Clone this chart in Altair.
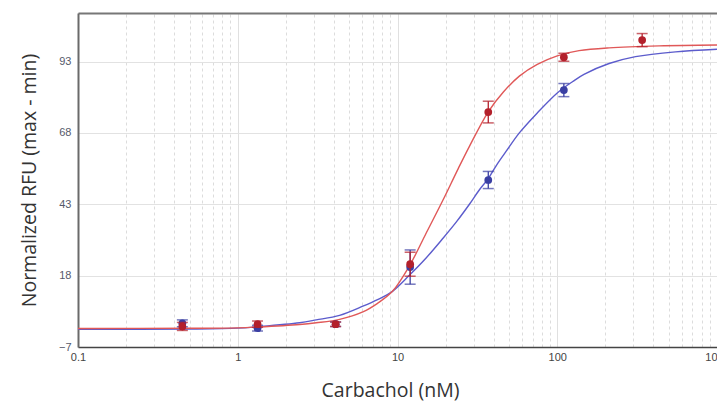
import altair as alt
import pandas as pd

# ---- data ----
red_conc = [0.45, 1.33, 4.1, 12.0, 37.0, 110.0, 340.0]
red_val = [0.2, 1.0, 1.0, 22.0, 75.3, 94.5, 100.5]
red_err = [1.4, 1.1, 0.8, 4.2, 3.8, 1.4, 2.3]

blue_conc = [0.45, 1.33, 4.1, 12.0, 37.0, 110.0]
blue_val = [1.3, -0.4, 1.0, 21.0, 51.5, 83.0]
blue_err = [1.2, 1.0, 0.8, 6.0, 3.0, 2.3]

red_curve_x = [0.1, 0.5, 1.0, 1.33, 2.44, 3.1, 4.34, 6.07, 7.5, 9.3, 11.9, 15.0, 19.2, 24.0, 28.2, 37.0, 46.0, 57.9, 75.0, 100.0, 137.0, 211.0, 434.0, 1000.0]
red_curve_y = [-0.5, -0.45, -0.3, 0.0, 0.9, 1.5, 2.7, 5.3, 8.3, 12.5, 21.5, 32.5, 44.3, 55.5, 63.3, 75.4, 82.3, 87.9, 92.0, 95.0, 96.8, 97.8, 98.5, 98.8]

blue_curve_x = [0.1, 0.5, 1.0, 1.33, 2.44, 3.1, 4.34, 6.07, 7.5, 9.3, 11.9, 15.0, 19.2, 23.5, 28.2, 32.5, 37.0, 42.0, 47.8, 57.9, 75.0, 100.0, 125.0, 147.0, 211.0, 309.0, 550.0, 1000.0]
blue_curve_y = [-0.8, -0.7, -0.4, 0.1, 1.5, 2.5, 4.1, 7.3, 9.6, 12.5, 18.2, 24.0, 31.0, 37.0, 43.0, 48.0, 52.0, 57.0, 61.5, 68.0, 75.0, 82.0, 86.0, 88.5, 92.3, 94.7, 96.4, 97.3]

major_ticks = [0.1, 1, 10, 100, 1000]
minor_ticks = [0.2, 0.3, 0.4, 0.5, 0.6, 0.7, 0.8, 0.9,
               2, 3, 4, 5, 6, 7, 8, 9,
               20, 30, 40, 50, 60, 70, 80, 90,
               200, 300, 400, 500, 600, 700, 800, 900]
y_ticks = [-7, 18, 43, 68, 93]

RED_PT = "#b3202b"
RED_LN = "#e05858"
BLUE_PT = "#3a3fa3"
BLUE_LN = "#5c5ccc"

red_pts = pd.DataFrame({"x": red_conc, "y": red_val,
                        "lo": [v - e for v, e in zip(red_val, red_err)],
                        "hi": [v + e for v, e in zip(red_val, red_err)]})
blue_pts = pd.DataFrame({"x": blue_conc, "y": blue_val,
                         "lo": [v - e for v, e in zip(blue_val, blue_err)],
                         "hi": [v + e for v, e in zip(blue_val, blue_err)]})
red_curve = pd.DataFrame({"x": red_curve_x, "y": red_curve_y})
blue_curve = pd.DataFrame({"x": blue_curve_x, "y": blue_curve_y})

xs = alt.Scale(type="log", domain=[0.1, 1000], nice=False)
ys = alt.Scale(domain=[-7, 110], nice=False, zero=False)

y_axis = alt.Axis(values=y_ticks, title="Normalized RFU (max - min)",
                  grid=True, gridColor="#e2e2e2", gridWidth=1,
                  ticks=False, domain=True, domainColor="#6a6a6a", domainWidth=2,
                  labelFont="Liberation Sans", labelFontSize=11, labelColor="#55596a",
                  labelPadding=7, titleFont="Open Sans", titleFontSize=19.5,
                  titleFontWeight="normal", titleColor="#333333", titlePadding=19)

x_minor = alt.Axis(values=minor_ticks, orient="top", labels=False, ticks=False,
                   grid=True, gridColor="#dcdcdc", gridDash=[3, 3], gridWidth=1,
                   domain=True, domainColor="#777777", domainWidth=2, title=None)

x_major = alt.Axis(values=major_ticks, orient="bottom", grid=True, gridColor="#e0e0e0",
                   gridWidth=1, ticks=False, domain=True, domainColor="#444444",
                   domainWidth=1.5, labelFont="Liberation Sans", labelFontSize=11,
                   labelColor="#444444", labelPadding=4, labelFlush=False,
                   labelExpr="datum.value < 1 ? '0.1' : format(datum.value, 'd')",
                   title="Carbachol (nM)", titleFont="Open Sans", titleFontSize=19.5,
                   titleFontWeight="normal", titleColor="#333333", titlePadding=19,
                   titleX=312)

blue_line = alt.Chart(blue_curve).mark_line(color=BLUE_LN, strokeWidth=1.4,
                                            interpolate="catmull-rom", clip=True).encode(
    x=alt.X("x:Q", scale=xs, axis=x_minor),
    y=alt.Y("y:Q", scale=ys, axis=y_axis))

red_line = alt.Chart(red_curve).mark_line(color=RED_LN, strokeWidth=1.4,
                                          interpolate="catmull-rom", clip=True).encode(
    x=alt.X("x:Q", scale=xs, axis=x_major),
    y=alt.Y("y:Q", scale=ys, axis=y_axis))


def err_layers(df, col):
    rule = alt.Chart(df).mark_rule(color=col, strokeWidth=1.3).encode(
        x=alt.X("x:Q", scale=xs, axis=None),
        y=alt.Y("lo:Q", scale=ys, axis=y_axis), y2="hi:Q")
    cap_lo = alt.Chart(df).mark_tick(color=col, orient="horizontal", size=11,
                                     thickness=1.5).encode(
        x=alt.X("x:Q", scale=xs, axis=None),
        y=alt.Y("lo:Q", scale=ys, axis=y_axis))
    cap_hi = alt.Chart(df).mark_tick(color=col, orient="horizontal", size=11,
                                     thickness=1.5).encode(
        x=alt.X("x:Q", scale=xs, axis=None),
        y=alt.Y("hi:Q", scale=ys, axis=y_axis))
    pts = alt.Chart(df).mark_circle(color=col, size=60, opacity=1).encode(
        x=alt.X("x:Q", scale=xs, axis=None),
        y=alt.Y("y:Q", scale=ys, axis=y_axis))
    return [rule, cap_lo, cap_hi, pts]


chart = alt.layer(
    blue_line, red_line,
    *err_layers(blue_pts, BLUE_PT),
    *err_layers(red_pts, RED_PT),
).resolve_axis(x="independent").properties(
    width=639, height=334,
    autosize=alt.AutoSizeParams(type="none"),
    padding={"left": 78, "top": 13, "right": 0, "bottom": 54},
    background="white",
).configure_view(stroke=None)

chart.save("out.html", embed_options={"renderer": "svg", "actions": False})
